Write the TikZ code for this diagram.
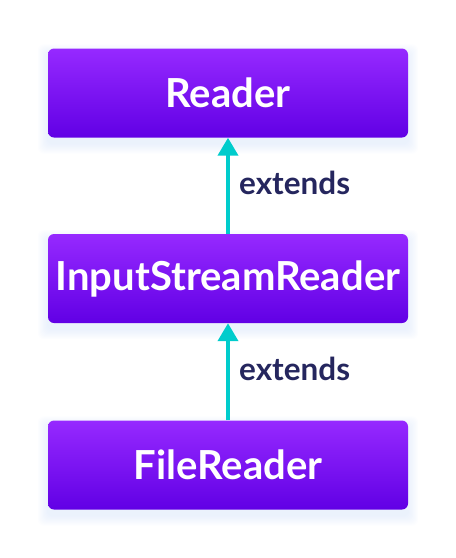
\documentclass[tikz,border=0pt]{standalone}
\usepackage{fontspec}
\setmainfont{Lato}
\usetikzlibrary{arrows.meta,backgrounds}
\definecolor{boxtop}{HTML}{9629FF}
\definecolor{boxbot}{HTML}{6100E5}
\definecolor{arrowc}{HTML}{00CCCC}
\definecolor{labc}{HTML}{25265E}
\definecolor{shcol}{HTML}{C8DAF8}
\tikzset{
  classbox/.style={rectangle, rounded corners=6pt, minimum width=360pt, minimum height=89pt,
    top color=boxtop, bottom color=boxbot, text=white, font=\fontsize{40}{44}\selectfont\bfseries, inner sep=0pt},
  inh/.style={line width=4pt, draw=arrowc, -{Triangle[width=20pt,length=18pt]}},
  lab/.style={font=\fontsize{31.5}{36}\selectfont\bfseries, text=labc, anchor=base west, inner sep=0pt}
}
\begin{document}
\begin{tikzpicture}[x=1pt,y=-1pt]
\useasboundingbox (0,0) rectangle (456,558);
\node[classbox] (r) at (228,93) {Reader};
\node[classbox] (i) at (228,278.5) {InputStreamReader};
\node[classbox] (f) at (228,465) {FileReader};
\begin{pgfonlayer}{background}
\foreach \n in {r,i,f}{
  \foreach \k in {1,...,10}{
    \fill[shcol, opacity=0.045, rounded corners=6pt]
      ([xshift=-\k pt, yshift=-6pt+\k pt]\n.north west) rectangle ([xshift=\k pt, yshift=-6pt-\k pt]\n.south east);
  }
}
\end{pgfonlayer}
\draw[inh] (i.north) -- (r.south);
\draw[inh] (f.north) -- (i.south);
\node[lab] (l1) at (239,194) {extends};
\node[lab] (l2) at (239,380) {extends};
\end{tikzpicture}
\end{document}
